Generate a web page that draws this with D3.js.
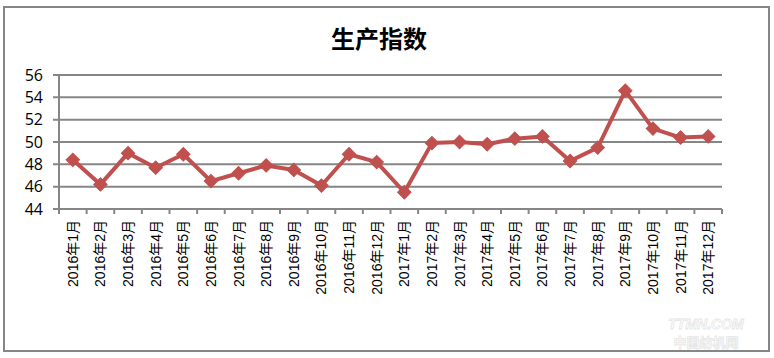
<!DOCTYPE html>
<html><head><meta charset="utf-8">
<script src="https://cdn.jsdelivr.net/npm/d3@7/dist/d3.min.js"></script>
<style>
html,body{margin:0;padding:0;background:#fff;}
svg{display:block;}
</style></head>
<body>
<svg id="chart" width="774" height="358"></svg>
<script>
const title = "生产指数";
const categories = ["2016年1月","2016年2月","2016年3月","2016年4月","2016年5月","2016年6月","2016年7月","2016年8月","2016年9月","2016年10月","2016年11月","2016年12月",
"2017年1月","2017年2月","2017年3月","2017年4月","2017年5月","2017年6月","2017年7月","2017年8月","2017年9月","2017年10月","2017年11月","2017年12月"];
const values = [48.4,46.2,49.0,47.7,48.9,46.5,47.2,47.9,47.5,46.1,48.9,48.2,
45.5,49.9,50.0,49.8,50.3,50.5,48.3,49.5,54.6,51.2,50.4,50.5];
const yTicks = [44,46,48,50,52,54,56];

const svg = d3.select("#chart");
const pLeft = 59, pRight = 722, pTop = 75, pBottom = 209;
const gray = "#868686", red = "#C0504D";

// outer border
svg.append("rect").attr("x",4).attr("y",7).attr("width",765).attr("height",344)
  .attr("fill","none").attr("stroke",gray).attr("stroke-width",2);

// title
svg.append("text").attr("x",379).attr("y",48).attr("text-anchor","middle")
  .attr("font-family","'Noto Sans CJK SC'").attr("font-weight",700).attr("font-size",24)
  .attr("fill","#000").text(title);

const x = d3.scaleBand().domain(categories).range([pLeft,pRight]).padding(0);
const y = d3.scaleLinear().domain([44,56]).range([pBottom,pTop]);

// gridlines
svg.append("g").selectAll("line").data(yTicks).join("line")
  .attr("x1",pLeft-6).attr("x2",pRight).attr("y1",d=>y(d)).attr("y2",d=>y(d))
  .attr("stroke",gray).attr("stroke-width",2);

// y labels
svg.append("g").selectAll("text").data(yTicks).join("text")
  .attr("x",43).attr("y",d=>y(d)).attr("dy","0.36em").attr("text-anchor","end")
  .attr("font-family","'Open Sans','Liberation Sans',sans-serif").attr("font-size",16)
  .attr("fill","#000").text(d=>d);

// y axis line
svg.append("line").attr("x1",pLeft).attr("x2",pLeft).attr("y1",pTop).attr("y2",pBottom+5)
  .attr("stroke",gray).attr("stroke-width",2);

// x ticks at category boundaries
const bounds = categories.map(c=>x(c)).concat([x.range()[1]]);
svg.append("g").selectAll("line").data(bounds).join("line")
  .attr("x1",d=>d).attr("x2",d=>d).attr("y1",pBottom).attr("y2",pBottom+5)
  .attr("stroke",gray).attr("stroke-width",2);

// x labels
svg.append("g").selectAll("text").data(categories).join("text")
  .attr("transform",d=>`translate(${x(d)+x.bandwidth()/2+5},220) rotate(-90)`)
  .attr("text-anchor","end")
  .attr("font-family","'Liberation Sans','Noto Sans CJK SC',sans-serif").attr("font-size",14)
  .attr("fill","#000").text(d=>d);

// line
const pts = categories.map((c,i)=>[x(c)+x.bandwidth()/2, y(values[i])]);
svg.append("path").attr("d",d3.line()(pts)).attr("fill","none")
  .attr("stroke",red).attr("stroke-width",4).attr("stroke-linejoin","round");

// markers
const sym = d3.symbol().type(d3.symbolSquare).size(90);
svg.append("g").selectAll("path").data(pts).join("path")
  .attr("transform",d=>`translate(${d[0]},${d[1]}) rotate(45)`)
  .attr("d",sym).attr("fill",red).attr("stroke",red).attr("stroke-width",1);

// watermark
svg.append("text").attr("x",706).attr("y",329).attr("text-anchor","middle")
  .attr("font-family","'Liberation Sans',sans-serif").attr("font-size",14).attr("font-style","italic").attr("font-weight",700)
  .attr("fill","#fff").attr("stroke","#e6e6e6").attr("stroke-width",0.8).text("TTMN.COM");
svg.append("text").attr("x",706).attr("y",347).attr("text-anchor","middle")
  .attr("font-family","'Noto Sans CJK SC'").attr("font-size",13).attr("font-weight",700)
  .attr("fill","#fff").attr("stroke","#e6e6e6").attr("stroke-width",0.8).text("中国纺机网");
</script>
</body></html>
